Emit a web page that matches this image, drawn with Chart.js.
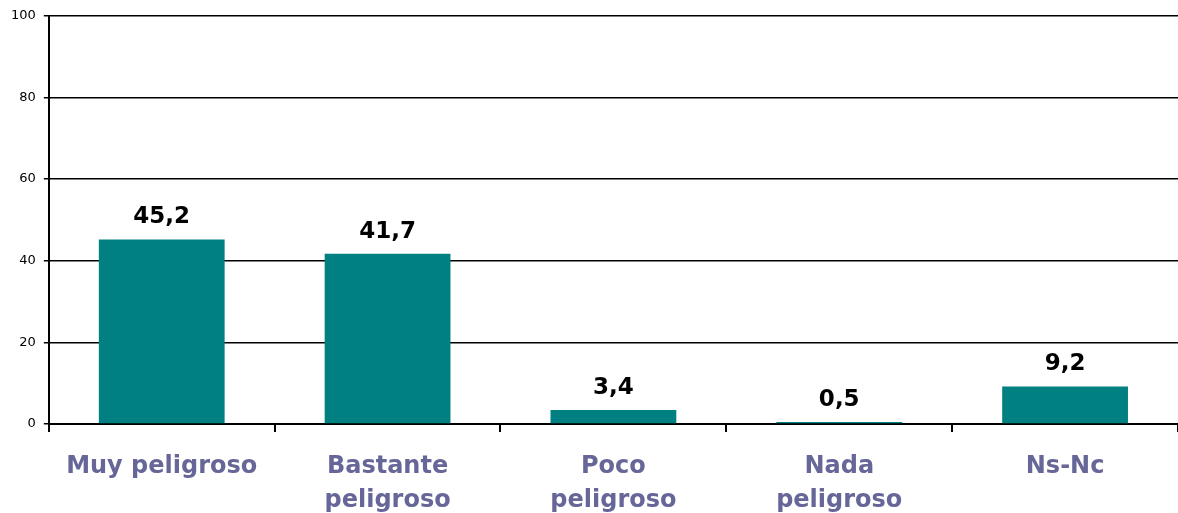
<!DOCTYPE html>
<html><head><meta charset="utf-8">
<script src="https://cdn.jsdelivr.net/npm/chart.js@4.4.1/dist/chart.umd.min.js"></script>
<style>html,body{margin:0;padding:0;background:#fff;}#wrap{width:1178px;height:513px;}</style>
</head><body><div id="wrap"><canvas id="c" width="1178" height="513"></canvas></div>
<script>
const categories = [["Muy peligroso"], ["Bastante","peligroso"], ["Poco","peligroso"], ["Nada","peligroso"], ["Ns-Nc"]];
const values = [45.2, 41.7, 3.4, 0.5, 9.2];
const yTicks = [0, 20, 40, 60, 80, 100];

const valueLabels = {
  id: 'valueLabels',
  afterDatasetsDraw(chart) {
    const ctx = chart.ctx;
    const meta = chart.getDatasetMeta(0);
    ctx.save();
    ctx.font = 'bold 23px "DejaVu Sans"';
    ctx.fillStyle = '#000';
    ctx.textAlign = 'center';
    ctx.textBaseline = 'alphabetic';
    meta.data.forEach((bar, i) => {
      ctx.fillText(values[i].toFixed(1).replace('.', ','), bar.x, bar.y - 16);
    });
    ctx.restore();
  }
};

new Chart(document.getElementById('c'), {
  type: 'bar',
  data: {
    labels: categories,
    datasets: [{ data: values, backgroundColor: '#008080', barPercentage: 0.557, categoryPercentage: 1 }]
  },
  options: {
    responsive: false,
    animation: false,
    layout: { padding: { top: 11, right: 0, left: 3, bottom: 0 } },
    plugins: { legend: { display: false }, tooltip: { enabled: false } },
    scales: {
      x: {
        offset: true,
        afterFit(axis) { axis.height = 89; },
        grid: { offset: true, drawOnChartArea: false, drawTicks: true, tickLength: 8, color: '#000', lineWidth: 2 },
        border: { display: true, color: '#000', width: 2 },
        ticks: { color: '#666699', font: { family: '"DejaVu Sans"', size: 24, weight: 'bold', lineHeight: 1.4 }, padding: 18, maxRotation: 0, autoSkip: false }
      },
      y: {
        min: 0, max: 100,
        afterBuildTicks(axis) { axis.ticks = yTicks.map(v => ({ value: v })); },
        grid: { color: '#000', lineWidth: 1.5, tickLength: 5, drawTicks: true },
        border: { display: true, color: '#000', width: 2 },
        ticks: { color: '#000', font: { family: '"DejaVu Sans"', size: 13 }, padding: 8 }
      }
    }
  },
  plugins: [valueLabels]
});
</script></body></html>
